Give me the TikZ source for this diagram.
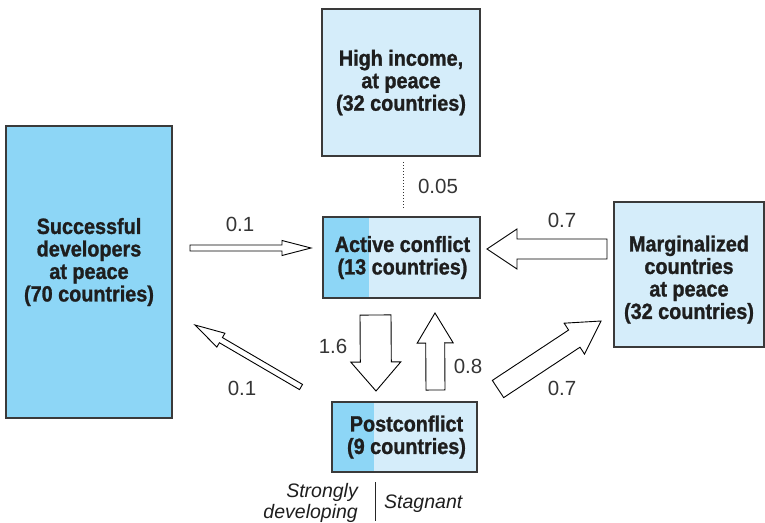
\documentclass[tikz,border=0pt]{standalone}
\usepackage{fontspec}
\setmainfont{Liberation Sans}
\newfontfamily\boxfont{Liberation Sans Bold}[FakeStretch=0.9,FakeBold=1.2]
\newfontfamily\numfont{Liberation Sans}
\newfontfamily\itfont{Liberation Sans Italic}
\usetikzlibrary{calc}
\definecolor{lightblue}{HTML}{D5EDFA}
\definecolor{darkblue}{HTML}{8DD6F6}
\definecolor{boxline}{HTML}{3A3A3A}
\definecolor{txt}{HTML}{1E1E1E}
\tikzset{
  box/.style={draw=boxline, line width=1.1pt, fill=lightblue, inner sep=0pt},
  btext/.style={font=\boxfont\fontsize{22}{22.5}\selectfont, align=center, text=txt, inner sep=0pt},
  num/.style={font=\numfont\fontsize{20.5}{22}\selectfont, text=txt!90, anchor=base, inner sep=0pt},
  itl/.style={font=\itfont\fontsize{19.5}{21}\selectfont, text=txt, inner sep=0pt, anchor=base},
  barrow/.style={draw=black, line width=0.9pt, fill=white, line join=miter},
  darkpart/.style={path picture={\fill[darkblue] (path picture bounding box.north west) rectangle ([xshift=#1]path picture bounding box.south west);}},
}
\newcommand\blockarrow[5]{%
  \coordinate (ba-tail) at (#1);
  \coordinate (ba-tip) at (#2);
  \coordinate (ba-hb) at ($(ba-tip)!#5!(ba-tail)$);
  \draw[barrow] ($(ba-tail)!#3!90:(ba-tip)$) -- ($(ba-hb)!#3!90:(ba-tip)$) -- ($(ba-hb)!#4!90:(ba-tip)$) -- (ba-tip) -- ($(ba-hb)!#4!-90:(ba-tip)$) -- ($(ba-hb)!#3!-90:(ba-tip)$) -- ($(ba-tail)!#3!-90:(ba-tip)$) -- cycle;
}
\begin{document}
\begin{tikzpicture}[x=1pt,y=-1pt]
\useasboundingbox (0,0) rectangle (765,522);

% boxes
\node[box, minimum width=158pt, minimum height=147pt] (high) at (401,82.5) {};
\node[btext] (hightext) at (high.center) {High income,\\at peace\\(32 countries)};

\node[box, darkpart=46pt, minimum width=157pt, minimum height=81pt] (act) at (401.5,257.5) {};
\node[btext] (acttext) at ([xshift=1pt]act.center) {Active conflict\\(13 countries)};

\node[box, fill=darkblue, minimum width=166pt, minimum height=292pt] (succ) at (89,272) {};
\node[btext] (succtext) at ([yshift=10pt]succ.center) {Successful\\developers\\at peace\\(70 countries)};

\node[box, minimum width=150pt, minimum height=145pt] (marg) at (689,274.5) {};
\node[btext] (margtext) at ([yshift=-5pt]marg.center) {Marginalized\\countries\\at peace\\(32 countries)};

\node[box, darkpart=42pt, minimum width=145pt, minimum height=70pt] (post) at (404.5,437) {};
\node[btext] (posttext) at ([xshift=2pt]post.center) {Postconflict\\(9 countries)};

% dotted link
\coordinate (dtop) at (403,162);
\coordinate (dbot) at (403,208);
\draw[dotted, line width=1pt, black!80] (dtop) -- (dbot);

% block arrows
\blockarrow{190,248}{311,248}{3pt}{7.5pt}{29pt}
\blockarrow{607,249}{487,249}{10pt}{20pt}{30pt}
\blockarrow{375.5,315}{376,391}{15.5pt}{25pt}{29pt}
\blockarrow{435.5,390}{435,313}{9.5pt}{18pt}{30pt}
\blockarrow{301,387}{195,325}{3pt}{8pt}{30pt}
\blockarrow{498,389}{601,321}{10.3pt}{18.5pt}{32pt}

% numeric labels
\node[num] (l005) at (438,193) {0.05};
\node[num] (l01a) at (240,231) {0.1};
\node[num] (l07a) at (562,227) {0.7};
\node[num] (l16) at (333,353) {1.6};
\node[num] (l08) at (468,373) {0.8};
\node[num] (l01b) at (242,395) {0.1};
\node[num] (l07b) at (562,395) {0.7};

% bottom legend
\coordinate (vtop) at (375,482);
\coordinate (vbot) at (375,521);
\draw[line width=1pt, black!85] (vtop) -- (vbot);
\node[itl, anchor=base east] (strong) at (358,497) {Strongly};
\node[itl, anchor=base east] (devel) at (358,518) {developing};
\node[itl, anchor=base west] (stag) at (384,508) {Stagnant};
\end{tikzpicture}
\end{document}
